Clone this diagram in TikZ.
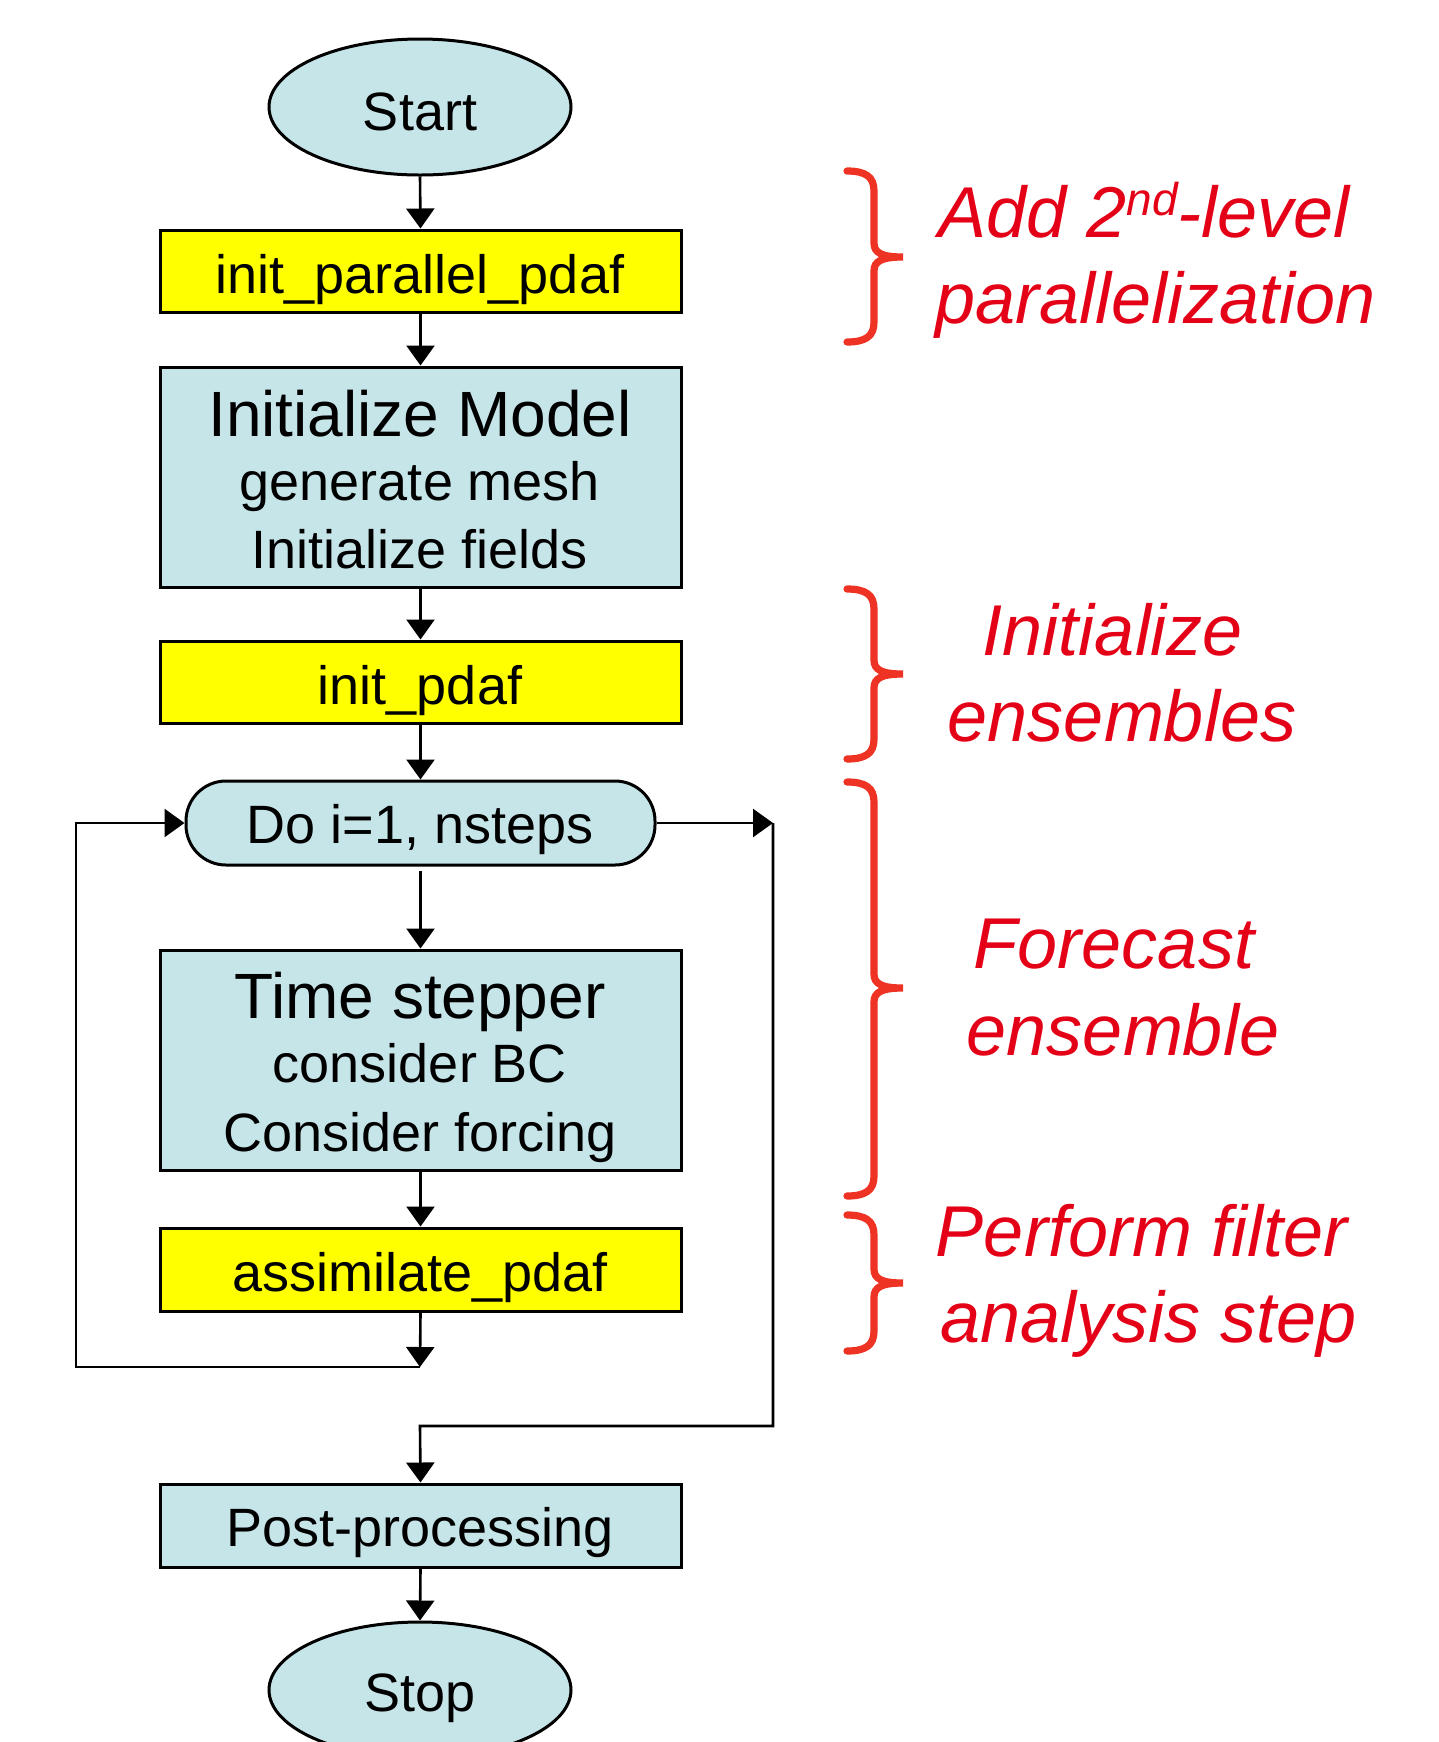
\documentclass[tikz,border=0pt]{standalone}
\usepackage{fontspec}
\setmainfont{Liberation Sans}
\usetikzlibrary{arrows.meta,shapes.geometric}
\definecolor{boxblue}{RGB}{198,229,233}
\definecolor{boxyellow}{RGB}{255,255,0}
\definecolor{bracered}{RGB}{238,50,36}
\definecolor{textred}{RGB}{228,0,22}
\tikzset{
 flowbox/.style={draw=black, line width=1.5pt, fill=boxblue, rectangle, inner sep=0pt, minimum width=260.5pt},
 yelbox/.style={flowbox, fill=boxyellow},
 term/.style={draw=black, line width=1.5pt, fill=boxblue, ellipse, inner sep=0pt, minimum width=151pt, minimum height=68pt},
 loopnode/.style={draw=black, line width=1.5pt, fill=boxblue, rectangle, rounded corners=20pt, inner sep=0pt, minimum width=234.5pt, minimum height=42pt},
 lbl/.style={anchor=base, inner sep=0pt, font=\fontsize{27}{27}\selectfont},
 ttl/.style={anchor=base, inner sep=0pt, font=\fontsize{32}{32}\selectfont},
 note/.style={anchor=base, inner sep=0pt, text=textred, font=\fontsize{36}{36}\selectfont\itshape},
 arr/.style={draw=black, line width=1.3pt, -{Triangle[width=14pt,length=10pt]}},
 conn/.style={draw=black, line width=1.3pt},
 brc/.style={draw=bracered, line width=3.6pt, line cap=round},
}
\newcommand\drawbrace[3]{%
 \draw[brc] (847,#1) .. controls (866,#1) and (874,#1+6) .. (874,#1+20)
  -- (874,#2-14) .. controls (874,#2-4) and (882,#2) .. (903,#2)
  .. controls (882,#2) and (874,#2+4) .. (874,#2+14)
  -- (874,#3-20) .. controls (874,#3-6) and (866,#3) .. (847,#3);}
\begin{document}
\begin{tikzpicture}[x=0.5pt,y=-0.5pt]
\fill[white] (0,0) rectangle (1439,1742);
\useasboundingbox (0,0) rectangle (1439,1742);

% nodes
\node[term] (start) at (420,107) {};
\node[yelbox, minimum height=41pt] (ipp) at (420.5,271) {};
\node[flowbox, minimum height=110pt] (initm) at (420.5,477) {};
\node[yelbox, minimum height=41pt] (ipdaf) at (420.5,682) {};
\node[loopnode] (do) at (420.5,823) {};
\node[flowbox, minimum height=110pt] (ts) at (420.5,1060) {};
\node[yelbox, minimum height=41.5pt] (assim) at (420.5,1269.5) {};
\node[flowbox, minimum height=41.5pt] (post) at (420.5,1525.5) {};
\node[term] (stop) at (420,1690) {};

% texts
\node[lbl] (tstart) at (420,130) {Start};
\node[lbl] (tipp) at (420,293) {init\_parallel\_pdaf};
\node[ttl] (tinit1) at (420,436) {Initialize Model};
\node[lbl] (tinit2) at (420,500) {generate mesh};
\node[lbl] (tinit3) at (420,568) {Initialize fields};
\node[lbl] (tipdaf) at (420,704) {init\_pdaf};
\node[lbl] (tdo) at (420,843) {Do i=1, nsteps};
\node[ttl] (tts1) at (420,1018) {Time stepper};
\node[lbl] (tts2) at (420,1082) {consider BC};
\node[lbl] (tts3) at (420,1151) {Consider forcing};
\node[lbl] (tassim) at (420,1291) {assimilate\_pdaf};
\node[lbl] (tpost) at (420,1546) {Post-processing};
\node[lbl] (tstop) at (420,1711) {Stop};

% helper coordinates
\coordinate (loopb) at (420,1367);
\coordinate (loopl) at (76,1367);
\coordinate (rtop) at (773,823);
\coordinate (rmid) at (420,1426);

% connectors
\draw[arr] (start.south) -- (ipp.north);
\draw[arr] (ipp.south) -- (initm.north);
\draw[arr] (initm.south) -- (ipdaf.north);
\draw[arr] (ipdaf.south) -- (do.north);
\draw[arr] ([yshift=-2pt]do.south) -- (ts.north);
\draw[arr] (ts.south) -- (assim.north);
\draw[arr] (assim.south) -- (loopb);
\draw[arr] (loopb) -- (loopl) |- (do.west);
\draw[arr] (do.east) -- (rtop);
\draw[arr] (rtop) |- (rmid) -- (post.north);
\draw[arr] (post.south) -- (stop.north);

% braces
\drawbrace{171}{257}{342}
\drawbrace{589}{674}{759}
\drawbrace{782}{988}{1196}
\drawbrace{1215}{1283}{1351}

% notes
\node[note] (n1a) at (1144,237) {Add 2\raisebox{11pt}{\fontsize{23}{23}\selectfont nd}-level};
\node[note] (n1b) at (1156,323) {parallelization};
\node[note] (n2a) at (1113,655) {Initialize};
\node[note] (n2b) at (1122,741) {ensembles};
\node[note] (n3a) at (1114,968) {Forecast};
\node[note] (n3b) at (1123,1055) {ensemble};
\node[note] (n4a) at (1142,1256) {Perform filter};
\node[note] (n4b) at (1149,1342) {analysis step};
\end{tikzpicture}
\end{document}
